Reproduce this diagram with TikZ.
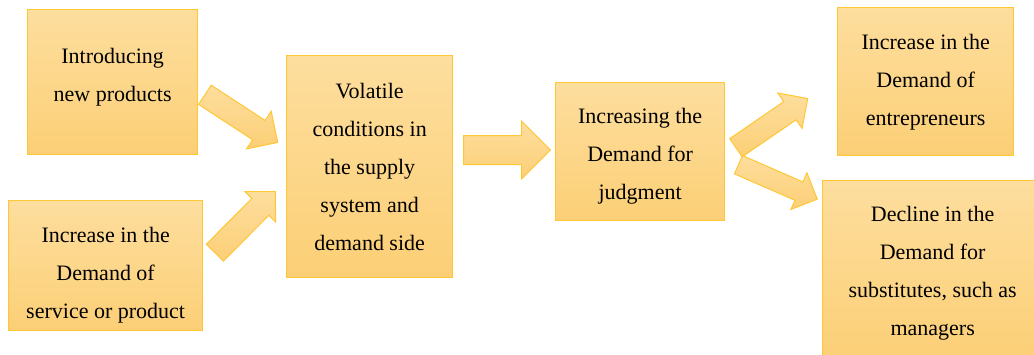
\documentclass[tikz,border=0pt]{standalone}
\usepackage{fontspec}
\setmainfont{Liberation Serif}
\usetikzlibrary{shapes.arrows}

\definecolor{boxtop}{RGB}{253,222,158}
\definecolor{boxbot}{RGB}{252,207,118}
\definecolor{boxline}{RGB}{255,199,52}

\begin{document}
\begin{tikzpicture}[x=1pt,y=-1pt,
 box/.style={draw=boxline,line width=1.3pt,top color=boxtop,bottom color=boxbot,
   anchor=north west,inner sep=0pt},
 boxtext/.style={align=center,inner sep=0pt,font=\fontsize{22}{38}\selectfont},
 blockarrow/.style={single arrow,draw=boxline,line width=1pt,top color=boxtop,
   bottom color=boxbot,anchor=tail,inner xsep=0pt,single arrow head indent=0pt}]
 \useasboundingbox (0,0) rectangle (1034,354);
 \clip (0,0) rectangle (1034,354);

 % boxes
 \node[box,minimum width=170pt,minimum height=145pt] (intro) at (27,9) {};
 \node[box,minimum width=194pt,minimum height=130pt] (service) at (8,200) {};
 \node[box,minimum width=166pt,minimum height=222pt] (volatile) at (286,55) {};
 \node[box,minimum width=169pt,minimum height=138pt] (judgment) at (555,82) {};
 \node[box,minimum width=176pt,minimum height=148pt] (entre) at (837,7) {};
 \node[box,minimum width=220pt,minimum height=180pt] (decline) at (822,180) {};

 % texts
 \node[boxtext] (intro-t) at ([yshift=5pt]intro.center) {Introducing\\new products};
 \node[boxtext] (service-t) at ([yshift=-10pt]service.center) {Increase in the\\Demand of\\service or product};
 \node[boxtext] (volatile-t) at (volatile.center) {Volatile\\conditions in\\the supply\\system and\\demand side};
 \node[boxtext] (judgment-t) at ([yshift=-5pt]judgment.center) {Increasing the\\Demand for\\judgment};
 \node[boxtext] (entre-t) at ([yshift=-1pt]entre.center) {Increase in the\\Demand of\\entrepreneurs};
 \node[boxtext] (decline-t) at ([yshift=-3pt]decline.center) {Decline in the\\Demand for\\substitutes, such as\\managers};

 % block arrows
 \node[blockarrow,minimum height=87pt,minimum width=44pt,inner ysep=11pt,single arrow head extend=11pt,rotate=-33.2] (arrintro) at (204.5,94.5) {};
 \node[blockarrow,minimum height=86pt,minimum width=42pt,inner ysep=11.5pt,single arrow head extend=9.5pt,rotate=45.2] (arrservice) at (214.5,253) {};
 \node[blockarrow,minimum height=87pt,minimum width=57pt,inner ysep=14pt,single arrow head extend=14.5pt] (arrvolatile) at (463,150) {};
 \node[blockarrow,minimum height=87pt,minimum width=42pt,inner ysep=10.5pt,single arrow head extend=10.5pt,rotate=34.4] (arrentre) at (735.5,148) {};
 \node[blockarrow,minimum height=86pt,minimum width=39pt,inner ysep=9.5pt,single arrow head extend=10pt,rotate=-23.6] (arrdecline) at (738,164.5) {};
\end{tikzpicture}
\end{document}
